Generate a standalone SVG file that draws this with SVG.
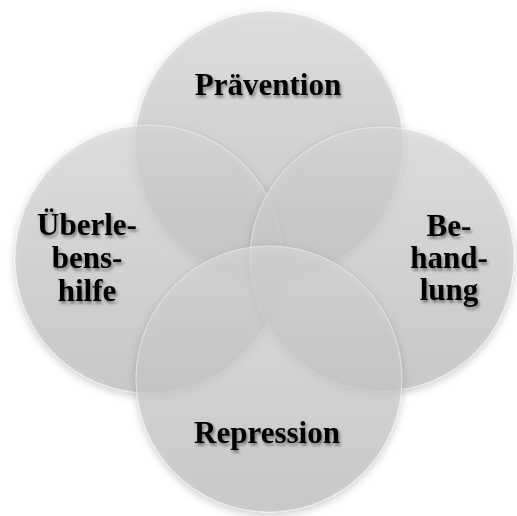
<svg xmlns="http://www.w3.org/2000/svg" width="517" height="516" viewBox="0 0 517 516">
  <defs>
    <linearGradient id="disc" x1="0" y1="0" x2="0" y2="1">
      <stop offset="0" stop-color="#d8d8d8"/>
      <stop offset="1" stop-color="#bdbdbd"/>
    </linearGradient>
    <filter id="soft" x="-20%" y="-20%" width="140%" height="140%">
      <feDropShadow dx="0" dy="3" stdDeviation="4" flood-color="#000" flood-opacity="0.28"/>
    </filter>
    <filter id="txtShadow" x="-20%" y="-20%" width="140%" height="150%">
      <feDropShadow dx="1.5" dy="2.5" stdDeviation="1.8" flood-color="#000" flood-opacity="0.45"/>
    </filter>
  </defs>
  <style>
    .disc { fill: url(#disc); fill-opacity: 0.7; stroke: #ffffff; stroke-opacity: 0.45; stroke-width: 1; filter: url(#soft); }
    .label { font-family: "Liberation Serif", "Times New Roman", serif; font-weight: bold; font-size: 31px; fill: #000; text-anchor: middle; filter: url(#txtShadow); }
  </style>
  <rect width="517" height="516" fill="#ffffff"/>

  <g id="praevention">
    <circle class="disc" cx="269" cy="145" r="134"/>
    <text class="label" x="268" y="95">Prävention</text>
  </g>

  <g id="ueberlebenshilfe">
    <circle class="disc" cx="149" cy="259" r="134"/>
    <text class="label" x="87" y="235">Überle-</text>
    <text class="label" x="87" y="268">bens-</text>
    <text class="label" x="87" y="301">hilfe</text>
  </g>

  <g id="behandlung">
    <circle class="disc" cx="382" cy="259" r="132"/>
    <text class="label" x="449" y="236">Be-</text>
    <text class="label" x="449" y="268">hand-</text>
    <text class="label" x="449" y="300">lung</text>
  </g>

  <g id="repression">
    <circle class="disc" cx="269" cy="379" r="133"/>
    <text class="label" x="267" y="443">Repression</text>
  </g>

  <g id="connectors"/>
</svg>
